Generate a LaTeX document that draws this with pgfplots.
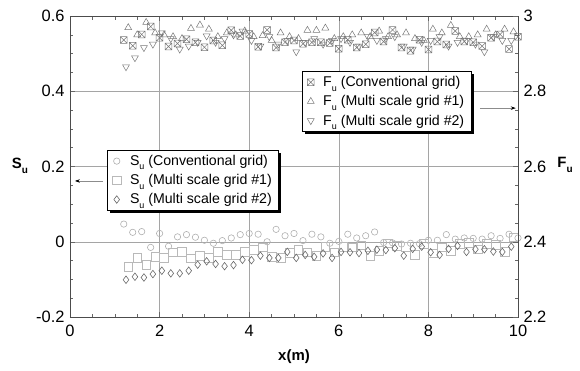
\documentclass[border=0pt]{standalone}
\usepackage{fontspec}
\setmainfont{Liberation Sans}
\usepackage{pgfplots}
\pgfplotsset{compat=1.18}
\usetikzlibrary{shadows,arrows.meta}
\pgfdeclareplotmark{boxx}{%
  \pgfpathrectangle{\pgfpoint{-\pgfplotmarksize}{-\pgfplotmarksize}}{\pgfpoint{2\pgfplotmarksize}{2\pgfplotmarksize}}%
  \pgfpathmoveto{\pgfpoint{-\pgfplotmarksize}{-\pgfplotmarksize}}%
  \pgfpathlineto{\pgfpoint{\pgfplotmarksize}{\pgfplotmarksize}}%
  \pgfpathmoveto{\pgfpoint{-\pgfplotmarksize}{\pgfplotmarksize}}%
  \pgfpathlineto{\pgfpoint{\pgfplotmarksize}{-\pgfplotmarksize}}%
  \pgfusepathqstroke}
\newcommand{\sub}[1]{\raisebox{-0.6ex}{\fontsize{9}{9}\selectfont #1}}
\newcommand{\bsub}[1]{\raisebox{-0.6ex}{\fontsize{10}{10}\selectfont\bfseries #1}}
\definecolor{gridc}{RGB}{165,165,165}
\definecolor{circc}{RGB}{175,175,175}
\definecolor{sqc}{RGB}{185,185,185}
\definecolor{diac}{RGB}{105,105,105}
\definecolor{fc}{RGB}{120,120,120}
\pgfplotsset{
  common/.style={
    width=448bp, height=301bp, scale only axis,
    xmin=0, xmax=10,
    tick align=inside,
    major tick length=5bp, minor tick length=3.5bp,
    tick style={color=black!60, line width=0.5pt},
    axis line style={black!70, line width=0.6pt},
    tick label style={font=\fontsize{16.5}{18}\selectfont},
    /pgf/number format/assume math mode=true,
    clip=false,
    legend cell align=left,
    legend style={font=\fontsize{14.2}{16}\selectfont, draw=black, line width=0.6pt, fill=white,
      drop shadow={shadow xshift=2.5pt, shadow yshift=-2.5pt, fill=black, opacity=1},
      row sep=3.5pt, inner xsep=5pt, inner ysep=3pt,
      /tikz/every odd column/.append style={column sep=7bp}},
  }
}
\begin{document}
\begin{tikzpicture}
\useasboundingbox (-70bp,-54bp) rectangle (510bp,317bp);
\begin{axis}[common,
  ymin=-0.2, ymax=0.6,
  xtick={0,2,4,6,8,10}, xticklabels={0,2,4,6,8,10},
  ytick={-0.2,0,0.2,0.4,0.6}, yticklabels={-0.2,0,0.2,0.4,0.6},
  minor x tick num=3, minor y tick num=3,
  xtick pos=both, ytick pos=left,
  grid=major, major grid style={gridc, line width=0.5pt},
  xticklabel style={yshift=-5bp}, yticklabel style={xshift=-2bp},
  legend style={at={(0.083,0.555)}, anchor=north west},
]
\addplot[only marks, mark=o, mark size=3.2pt, color=circc, mark options={line width=0.6pt}] coordinates {
(1.2,0.047)(1.4,0.025)(1.6,0.027)(1.8,-0.015)(2.0,0.022)(2.2,-0.012)(2.4,0.013)(2.6,0.019)(2.8,0.012)(3.0,0.004)
(3.2,-0.004)(3.4,0.003)(3.6,0.010)(3.8,0.019)(4.0,0.022)(4.2,0.020)(4.4,0.000)(4.6,0.033)(4.8,0.016)(5.0,0.022)
(5.2,0.003)(5.4,0.020)(5.6,0.013)(5.8,-0.004)(6.0,0.001)(6.2,0.020)(6.4,0.010)(6.6,0.016)(6.8,0.026)(7.0,-0.002)
(7.2,-0.003)(7.4,-0.006)(7.6,-0.004)(7.8,-0.005)(8.0,0.004)(8.2,0.004)(8.4,0.019)(8.6,0.007)(8.8,0.010)(9.0,0.009)
(9.2,0.007)(9.4,0.016)(9.6,0.009)(9.8,0.020)(10.0,0.010)};
\addlegendentry{S\sub{u} (Conventional grid)}
\addplot[only marks, mark=square, mark size=4.3pt, color=sqc, mark options={line width=0.6pt}] coordinates {
(1.3,-0.066)(1.5,-0.042)(1.7,-0.061)(1.9,-0.040)(2.1,-0.042)(2.3,-0.028)(2.5,-0.027)(2.7,-0.044)(2.9,-0.037)(3.1,-0.043)
(3.3,-0.026)(3.5,-0.035)(3.7,-0.035)(3.9,-0.026)(4.1,-0.022)(4.3,-0.015)(4.5,-0.040)(4.7,-0.042)(4.9,-0.030)(5.1,-0.022)
(5.3,-0.028)(5.5,-0.037)(5.7,-0.013)(5.9,-0.028)(6.1,-0.013)(6.3,-0.015)(6.5,-0.009)(6.7,-0.038)(6.9,-0.024)(7.1,-0.004)
(7.3,-0.011)(7.5,-0.013)(7.7,-0.035)(7.9,-0.005)(8.1,-0.031)(8.3,-0.015)(8.5,-0.024)(8.7,-0.006)(8.9,-0.003)(9.1,-0.020)
(9.3,-0.006)(9.5,-0.008)(9.7,-0.027)(9.9,0.012)};
\addlegendentry{S\sub{u} (Multi scale grid \#1)}
\addplot[only marks, mark=diamond, mark size=3.8pt, color=diac, mark options={line width=0.6pt}] coordinates {
(1.25,-0.101)(1.45,-0.093)(1.65,-0.095)(1.85,-0.086)(2.05,-0.077)(2.25,-0.084)(2.45,-0.084)(2.65,-0.077)(2.85,-0.061)(3.05,-0.052)
(3.25,-0.059)(3.45,-0.065)(3.65,-0.062)(3.85,-0.048)(4.05,-0.049)(4.25,-0.037)(4.45,-0.043)(4.65,-0.043)(4.85,-0.027)(5.05,-0.043)
(5.25,-0.035)(5.45,-0.040)(5.65,-0.031)(5.85,-0.043)(6.05,-0.027)(6.25,-0.028)(6.45,-0.030)(6.65,-0.024)(6.85,-0.021)(7.05,-0.022)
(7.25,-0.017)(7.45,-0.037)(7.65,-0.019)(7.85,-0.013)(8.05,-0.028)(8.25,-0.035)(8.45,-0.019)(8.65,-0.011)(8.85,-0.027)(9.05,-0.020)
(9.25,-0.020)(9.45,-0.026)(9.65,-0.027)(9.85,-0.013)};
\addlegendentry{S\sub{u} (Multi scale grid \#2)}
\draw[black!45, line width=0.6pt, -{Stealth[black, length=5bp, width=3.5bp]}] (rel axis cs:0.074,0.452) -- (rel axis cs:0.011,0.452);
\node[font=\fontsize{15}{16}\selectfont\bfseries] at (rel axis cs:-0.112,0.502) {S\bsub{u}};
\node[font=\fontsize{15}{16}\selectfont\bfseries] at (rel axis cs:0.5,-0.133) {x(m)};
\end{axis}
\begin{axis}[common,
  ymin=2.2, ymax=3,
  axis x line=none, axis y line*=right,
  ytick={2.2,2.4,2.6,2.8,3}, yticklabels={2.2,2.4,2.6,2.8,3},
  minor y tick num=3,
  yticklabel style={xshift=2bp},
  legend style={at={(0.518,0.817)}, anchor=north west},
]
\addplot[only marks, mark=boxx, mark size=3.4pt, color=fc, mark options={line width=0.5pt}] coordinates {
(1.2,2.936)(1.4,2.921)(1.6,2.951)(1.8,2.972)(2.0,2.942)(2.2,2.919)(2.4,2.927)(2.6,2.938)(2.8,2.930)(3.0,2.917)
(3.2,2.935)(3.4,2.922)(3.6,2.962)(3.8,2.947)(4.0,2.952)(4.2,2.918)(4.4,2.963)(4.6,2.916)(4.8,2.930)(5.0,2.935)
(5.2,2.926)(5.4,2.930)(5.6,2.930)(5.8,2.928)(6.0,2.913)(6.2,2.937)(6.4,2.916)(6.6,2.925)(6.8,2.956)(7.0,2.932)
(7.2,2.963)(7.4,2.916)(7.6,2.908)(7.8,2.937)(8.0,2.911)(8.2,2.932)(8.4,2.924)(8.6,2.960)(8.8,2.932)(9.0,2.930)
(9.2,2.920)(9.4,2.942)(9.6,2.951)(9.8,2.912)(10.0,2.945)};
\addlegendentry{F\sub{u} (Conventional grid)}
\addplot[only marks, mark=triangle, mark size=4pt, color=fc, mark options={line width=0.5pt}] coordinates {
(1.3,2.969)(1.5,2.950)(1.7,2.983)(1.9,2.955)(2.1,2.950)(2.3,2.945)(2.5,2.940)(2.7,2.967)(2.9,2.976)(3.1,2.965)
(3.3,2.945)(3.5,2.955)(3.7,2.950)(3.9,2.960)(4.1,2.945)(4.3,2.948)(4.5,2.935)(4.7,2.955)(4.9,2.945)(5.1,2.940)
(5.3,2.962)(5.5,2.962)(5.7,2.968)(5.9,2.940)(6.1,2.945)(6.3,2.950)(6.5,2.955)(6.7,2.945)(6.9,2.960)(7.1,2.945)
(7.3,2.950)(7.5,2.955)(7.7,2.940)(7.9,2.935)(8.1,2.965)(8.3,2.955)(8.5,2.975)(8.7,2.945)(8.9,2.945)(9.1,2.950)
(9.3,2.965)(9.5,2.950)(9.7,2.965)(9.9,2.958)};
\addlegendentry{F\sub{u} (Multi scale grid \#1)}
\addplot[only marks, mark=triangle, mark size=4pt, color=fc, mark options={line width=0.5pt, rotate=180}] coordinates {
(1.25,2.865)(1.45,2.889)(1.65,2.916)(1.85,2.925)(2.05,2.955)(2.25,2.940)(2.45,2.912)(2.65,2.920)(2.85,2.930)(3.05,2.947)
(3.25,2.930)(3.45,2.940)(3.65,2.950)(3.85,2.960)(4.05,2.935)(4.25,2.920)(4.45,2.945)(4.65,2.925)(4.85,2.935)(5.05,2.905)
(5.25,2.930)(5.45,2.940)(5.65,2.925)(5.85,2.935)(6.05,2.940)(6.25,2.930)(6.45,2.920)(6.65,2.945)(6.85,2.935)(7.05,2.940)
(7.25,2.945)(7.45,2.920)(7.65,2.912)(7.85,2.930)(8.05,2.935)(8.25,2.945)(8.45,2.920)(8.65,2.930)(8.85,2.935)(9.05,2.925)
(9.25,2.905)(9.45,2.945)(9.65,2.935)(9.85,2.935)};
\addlegendentry{F\sub{u} (Multi scale grid \#2)}
\draw[black!45, line width=0.6pt, -{Stealth[black, length=5bp, width=3.5bp]}] (rel axis cs:0.915,0.694) -- (rel axis cs:0.995,0.694);
\node[font=\fontsize{15}{16}\selectfont\bfseries] at (rel axis cs:1.105,0.505) {F\bsub{u}};
\end{axis}
\end{tikzpicture}
\end{document}
